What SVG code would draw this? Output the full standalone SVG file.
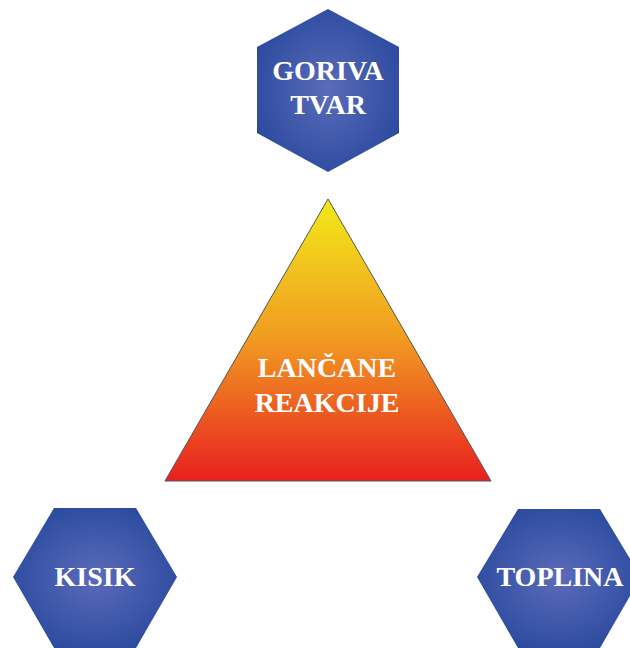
<svg xmlns="http://www.w3.org/2000/svg" width="630" height="648" viewBox="0 0 630 648">
  <defs>
    <radialGradient id="hexGrad" cx="0.5" cy="0.5" r="0.55">
      <stop offset="0" stop-color="#5b6bb9"/>
      <stop offset="1" stop-color="#2c4b9f"/>
    </radialGradient>
    <linearGradient id="triGrad" x1="0" y1="0" x2="0" y2="1">
      <stop offset="0" stop-color="#f2ea18"/>
      <stop offset="0.5" stop-color="#f19a22"/>
      <stop offset="1" stop-color="#e8201f"/>
    </linearGradient>
    <style>
      .hex { fill: url(#hexGrad); stroke: none; }
      .tri { fill: url(#triGrad); stroke: #555555; stroke-width: 1; }
      .lbl { font-family: "Liberation Serif", "Times New Roman", serif; font-weight: bold; font-size: 28px; fill: #ffffff; text-anchor: middle; }
    </style>
  </defs>
  <rect width="630" height="648" fill="#ffffff"/>
  <g id="connectors"/>
  <g id="goriva-tvar">
    <polygon class="hex" points="328,9 399,47 399,133 328,172 257,133 257,47"/>
    <text class="lbl" x="328" y="80">GORIVA</text>
    <text class="lbl" x="328" y="114">TVAR</text>
  </g>
  <g id="lancane-reakcije">
    <polygon class="tri" points="328,199 491,481 165,481"/>
    <text class="lbl" x="327" y="377">LANČANE</text>
    <text class="lbl" x="327" y="412">REAKCIJE</text>
  </g>
  <g id="kisik">
    <polygon class="hex" points="54,508 136,508 177,577 136,648 54,648 13,577"/>
    <text class="lbl" x="95" y="586">KISIK</text>
  </g>
  <g id="toplina">
    <polygon class="hex" points="518,509 600,509 641,577 600,648 518,648 477,577"/>
    <text class="lbl" x="560" y="586">TOPLINA</text>
  </g>
</svg>
